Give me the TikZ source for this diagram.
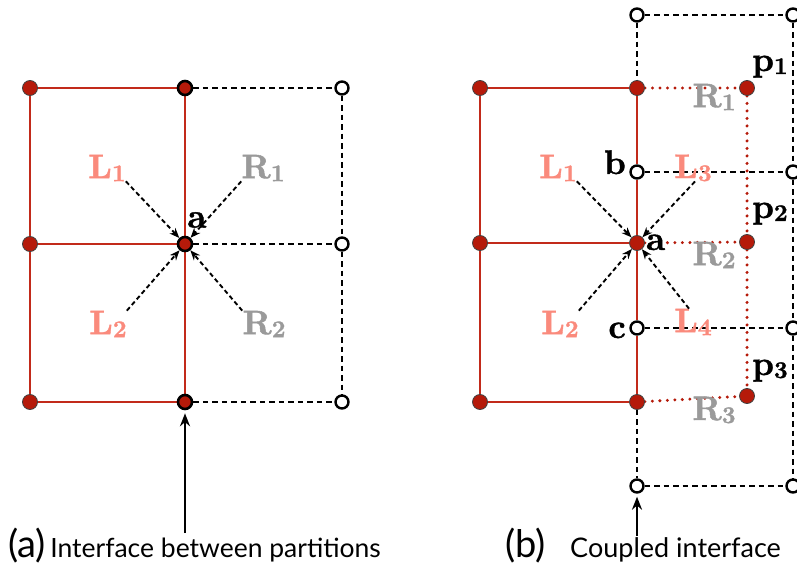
\documentclass[tikz,border=0pt]{standalone}
\usepackage{fontspec}
\newfontfamily\capfont{Lato}
\newfontfamily\lblfont[FakeBold=1.2]{lmroman10-bold.otf}
\usetikzlibrary{arrows.meta,backgrounds}
\definecolor{nodered}{HTML}{B51A0A}
\definecolor{edgered}{HTML}{C22A1A}
\definecolor{salmon}{HTML}{FA8A7C}
\definecolor{lgray}{HTML}{9A9A9A}
\tikzset{
  rnode/.style={circle,fill=nodered,draw=black!75,line width=0.8pt,inner sep=0pt,minimum size=15pt},
  inode/.style={rnode,draw=black,line width=2.6pt,minimum size=14pt},
  onode/.style={circle,fill=white,draw=black,line width=2.4pt,inner sep=0pt,minimum size=13pt},
  redline/.style={draw=edgered,line width=2.5pt},
  dline/.style={draw=black,line width=2.3pt,dash pattern=on 5.5pt off 4pt},
  rdot/.style={draw=nodered,line width=3.3pt,line cap=round,dash pattern=on 0pt off 7.5pt},
  darrow/.style={draw=black,line width=1.9pt,dash pattern=on 4.5pt off 3pt,-{Stealth[length=10pt,width=8pt]}},
  uparrow/.style={draw=black,line width=2.5pt,-{Stealth[length=13pt,width=10pt]}},
  lbl/.style={font=\lblfont\fontsize{34}{36}\selectfont,inner sep=0pt},
  llab/.style={lbl,text=salmon},
  rlab/.style={lbl,text=lgray},
  caplab/.style={inner sep=0pt,anchor=base west},
}
\newcommand{\sub}[1]{\raisebox{-3pt}{\fontsize{24}{24}\selectfont #1}}
\begin{document}
\begin{tikzpicture}[x=1pt,y=-1pt]
\useasboundingbox (0,0) rectangle (797,577);

% ---------- (a) interface between partitions ----------
\node[rnode] (a11) at (30,88) {};
\node[inode] (a12) at (185,88) {};
\node[onode] (a13) at (342,88) {};
\node[rnode] (a21) at (30,244) {};
\node[inode] (a22) at (185,244) {};
\node[onode] (a23) at (342,244) {};
\node[rnode] (a31) at (30,402) {};
\node[inode] (a32) at (185,402) {};
\node[onode] (a33) at (342,402) {};

\begin{pgfonlayer}{background}
  \draw[redline] (a11) -- (a12);
  \draw[redline] (a21) -- (a22);
  \draw[redline] (a31) -- (a32);
  \draw[redline] (a11) -- (a21) -- (a31);
  \draw[dline,line width=2.9pt] (a12) -- (a22) -- (a32);
  \draw[redline,line width=1.6pt] (a12) -- (a22) -- (a32);
  \draw[dline] (a12) -- (a13);
  \draw[dline] (a22) -- (a23);
  \draw[dline] (a32) -- (a33);
  \draw[dline] (a13) -- (a23) -- (a33);
\end{pgfonlayer}

\node[lbl] (aA) at (197,220) {a};
\node[llab] (aL1) at (107,168) {L\sub{1}};
\node[rlab] (aR1) at (263,168) {R\sub{1}};
\node[llab] (aL2) at (108,324) {L\sub{2}};
\node[rlab] (aR2) at (264,324) {R\sub{2}};

\draw[darrow] (aL1.south east) -- (a22);
\draw[darrow] (aR1.south west) -- (a22);
\draw[darrow] (aL2.north east) -- (a22);
\draw[darrow] (aR2.north west) -- (a22);

\coordinate (aFoot) at (185,533);
\draw[uparrow,shorten >=3pt] (aFoot) -- (a32);

\node[caplab] (capA) at (8,557) {\capfont\fontsize{38}{40}\selectfont(a)\fontsize{26.5}{28}\selectfont\,Interface between partitions};

% ---------- (b) coupled interface ----------
\node[rnode] (b11) at (480,88) {};
\node[rnode] (b12) at (637,88) {};
\node[rnode] (p1) at (747,88) {};
\node[rnode] (b21) at (480,243) {};
\node[rnode] (b22) at (637,243) {};
\node[rnode] (p2) at (747,242) {};
\node[rnode] (b31) at (480,402) {};
\node[rnode] (b32) at (637,402) {};
\node[rnode] (p3) at (747,396) {};

\node[onode] (o1) at (637,15) {};
\node[onode] (o2) at (793,15) {};
\node[onode] (nb) at (637,172) {};
\node[onode] (o4) at (793,172) {};
\node[onode] (nc) at (637,328) {};
\node[onode] (o6) at (793,328) {};
\node[onode] (o7) at (637,486) {};
\node[onode] (o8) at (793,486) {};

\begin{pgfonlayer}{background}
  \draw[redline] (b11) -- (b12);
  \draw[redline] (b21) -- (b22);
  \draw[redline] (b31) -- (b32);
  \draw[redline] (b11) -- (b21) -- (b31);
  \draw[redline] (b12) -- (nb) -- (b22) -- (nc) -- (b32);
  \draw[rdot] (b12) -- (p1);
  \draw[rdot] (b22) -- (p2);
  \draw[rdot] (b32) -- (p3);
  \draw[rdot] (p1) -- (p2) -- (p3);
  \draw[dline] (o1) -- (b12);
  \draw[dline] (b32) -- (o7);
  \draw[dline] (o1) -- (o2);
  \draw[dline] (nb) -- (o4);
  \draw[dline] (nc) -- (o6);
  \draw[dline] (o7) -- (o8);
  \draw[dline] (o2) -- (o4) -- (o6) -- (o8);
\end{pgfonlayer}

\node[lbl,anchor=base west] (bA) at (646,250) {a};
\node[lbl,anchor=base east] (bB) at (626,174) {b};
\node[lbl,anchor=base east] (bC) at (626,338) {c};
\node[lbl,anchor=base west] (tp1) at (752,71) {p\sub{1}};
\node[lbl,anchor=base west] (tp2) at (752,218) {p\sub{2}};
\node[lbl,anchor=base west] (tp3) at (752,375) {p\sub{3}};

\node[rlab] (bR1) at (714,97) {R\sub{1}};
\node[rlab] (bR2) at (714,255) {R\sub{2}};
\node[rlab] (bR3) at (714,410) {R\sub{3}};
\node[llab] (bL1) at (558,168) {L\sub{1}};
\node[llab] (bL3) at (693,168) {L\sub{3}};
\node[llab] (bL2) at (560,324) {L\sub{2}};
\node[llab] (bL4) at (693,322) {L\sub{4}};

\draw[darrow] (bL1.south east) -- (b22);
\draw[darrow] ([xshift=2pt]bL3.south) -- (b22);
\draw[darrow] (bL2.north east) -- (b22);
\draw[darrow] ([xshift=-4pt]bL4.north) -- (b22);

\coordinate (bFoot) at (637,536);
\draw[uparrow,shorten >=3pt] (bFoot) -- (o7);

\node[caplab] (capB) at (505,557) {\capfont\fontsize{38}{40}\selectfont(b)};
\node[caplab] (capB2) at (570,557) {\capfont\fontsize{27}{28}\selectfont Coupled interface};
\end{tikzpicture}
\end{document}
